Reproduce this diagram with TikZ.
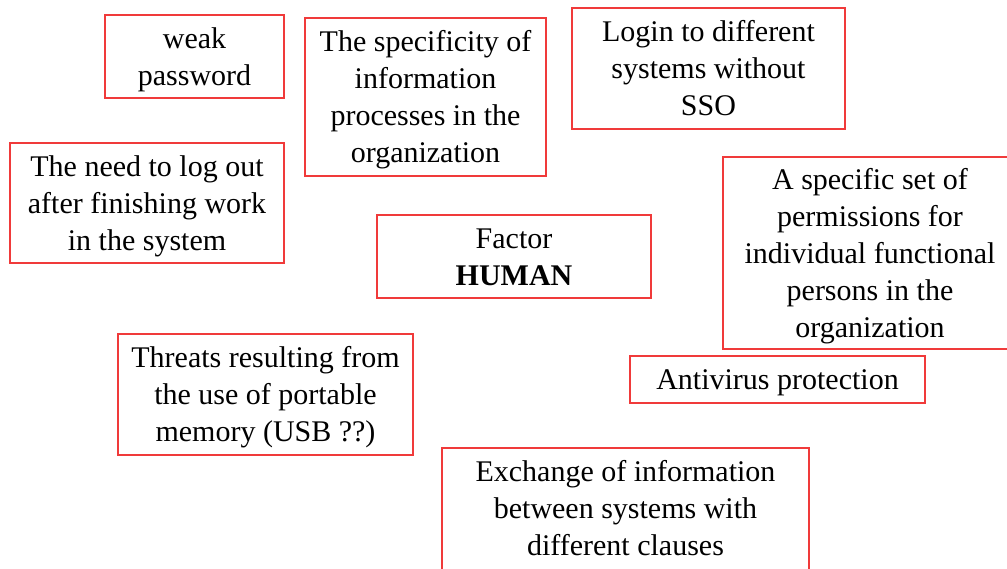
\documentclass[tikz,border=0pt]{standalone}
\usepackage{fontspec}
\setmainfont{Liberation Serif}
\definecolor{boxred}{HTML}{F03A3A}
% fixed line extent so every box places its lines the same way
\newcommand\boxstrut{\rule[-7pt]{0pt}{34pt}}
\newcommand\deepstrut{\rule[-13pt]{0pt}{40pt}}
\begin{document}
\begin{tikzpicture}[x=1pt,y=-1pt,
  factorbox/.style={draw=boxred, line width=1.7pt, inner sep=0pt, align=center,
    font=\fontsize{30}{37}\selectfont, text=black}]
\useasboundingbox (0,0) rectangle (1007,568);
\clip (0,0) rectangle (1007,568);
\node[factorbox, minimum width=179, minimum height=83] (weak) at (194.5,56.5)
  {\boxstrut weak\\password\boxstrut};
\node[factorbox, minimum width=241, minimum height=158] (spec) at (425.5,97)
  {\boxstrut The specificity of\\information\\processes in the\\organization\boxstrut};
\node[factorbox, minimum width=274, minimum height=120] (logout) at (147,203)
  {\boxstrut The need to log out\\after finishing work\\in the system\boxstrut};
\node[factorbox, minimum width=274, minimum height=83] (factor) at (514,256.5)
  {\boxstrut Factor\\\textbf{HUMAN}\boxstrut};
\node[factorbox, minimum width=273, minimum height=121] (login) at (708.5,68.5)
  {\boxstrut Login to different\\systems without\\SSO\boxstrut};
\node[factorbox, minimum width=294, minimum height=192] (perms) at (870,253)
  {\boxstrut A specific set of\\permissions for\\individual functional\\persons in the\\organization\boxstrut};
\node[factorbox, minimum width=295, minimum height=121] (usb) at (265.5,394.5)
  {\boxstrut Threats resulting from\\the use of portable\\memory (USB ??)\boxstrut};
\node[factorbox, minimum width=295, minimum height=47] (av) at (777.5,379.5)
  {\boxstrut Antivirus protection\boxstrut};
\node[factorbox, minimum width=367, minimum height=126] (exch) at (625.5,511)
  {\boxstrut Exchange of information\\between systems with\\different clauses\deepstrut};
\end{tikzpicture}
\end{document}
